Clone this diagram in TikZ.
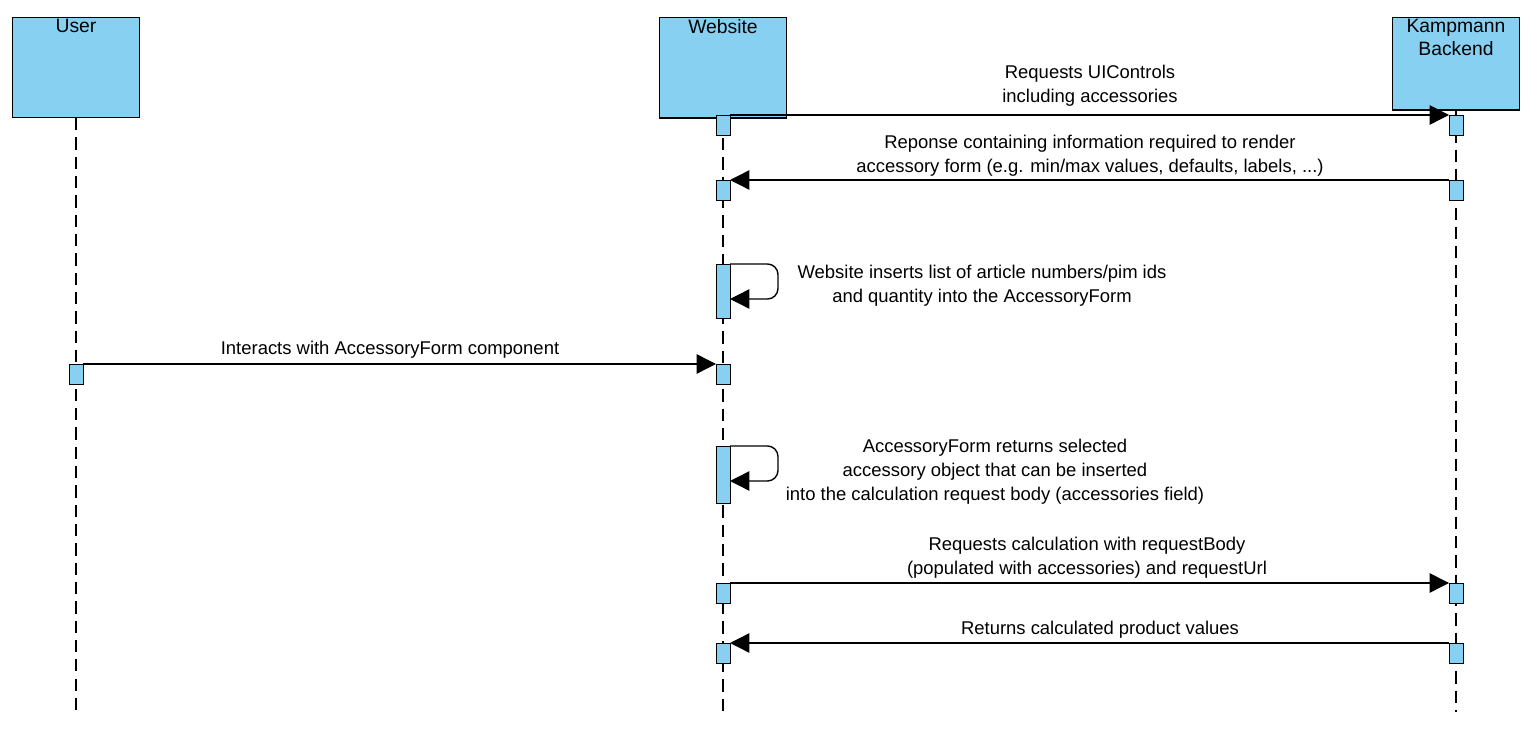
\documentclass[tikz,border=0pt]{standalone}
\usepackage{fontspec}
\setmainfont{Liberation Sans}
\usetikzlibrary{arrows.meta,positioning}
\definecolor{actfill}{HTML}{88D0F2}
\tikzset{
  actor/.style={draw, thick, fill=actfill, minimum width=2.54cm, minimum height=1.26cm,
    inner sep=1pt, anchor=north, align=center, font=\fontsize{11}{13}\selectfont, text depth=0pt},
  bar/.style={draw, fill=actfill, minimum width=0.28cm, minimum height=0.4cm, inner sep=0pt, outer sep=0pt, anchor=north},
  life/.style={thick, dash pattern=on 7pt off 4pt},
  msg/.style={thick, -{Triangle[length=11pt,width=11pt]}},
  lbl/.style={align=center, font=\fontsize{10.5}{13.6}\selectfont, inner sep=1pt}
}
\begin{document}
\begin{tikzpicture}[x=0.02cm, y=-0.02cm]
\useasboundingbox (0,0) rectangle (1537,742);

% actors
\node[actor] (user) at (76,17) {User\\[1.2cm]};
\node[actor] (web) at (723,17) {Website\\[1.2cm]};
\node[actor] (back) at (1456,17) {Kampmann\\Backend\\[0.6cm]};

% lifelines
\coordinate (ue) at (76,712);
\coordinate (we) at (723,712);
\coordinate (be) at (1456,712);
\draw[life] (user.south) -- (ue);
\draw[life] (web.south) -- (we);
\draw[life] (back.south) -- (be);

% activation bars
\node[bar] (w1) at (723,115) {};
\node[bar] (k1) at (1456,115) {};
\node[bar] (w2) at (723,180) {};
\node[bar] (k2) at (1456,180) {};
\node[bar, minimum height=1.08cm] (w3) at (723,264) {};
\node[bar] (u4) at (76,364) {};
\node[bar] (w4) at (723,364) {};
\node[bar, minimum height=1.14cm] (w5) at (723,446) {};
\node[bar] (w6) at (723,583) {};
\node[bar] (k6) at (1456,583) {};
\node[bar] (w7) at (723,643) {};
\node[bar] (k7) at (1456,643) {};

% messages
\draw[msg] (w1.north east) -- (k1.north west);
\node[lbl] (m1) at (1090,86) {Requests UIControls\\including accessories};
\draw[msg] (k2.north west) -- (w2.north east);
\node[lbl] (m2) at (1090,156) {Reponse containing information required to render\\accessory form (e.g. min/max values, defaults, labels, ...)};
\draw[msg, rounded corners=6pt] (w3.north east) -- ++(48,0) -- ++(0,35) -- ++(-48,0);
\node[lbl] (m3) at (982,286) {Website inserts list of article numbers/pim ids\\and quantity into the AccessoryForm};
\draw[msg] (u4.north east) -- (w4.north west);
\node[lbl] (m4) at (390,350) {Interacts with AccessoryForm component};
\draw[msg, rounded corners=6pt] (w5.north east) -- ++(48,0) -- ++(0,35) -- ++(-48,0);
\node[lbl] (m5) at (995,472) {AccessoryForm returns selected\\accessory object that can be inserted\\into the calculation request body (accessories field)};
\draw[msg] (w6.north east) -- (k6.north west);
\node[lbl] (m6) at (1087,558) {Requests calculation with requestBody\\(populated with accessories) and requestUrl};
\draw[msg] (k7.north west) -- (w7.north east);
\node[lbl] (m7) at (1100,630) {Returns calculated product values};

\end{tikzpicture}
\end{document}
